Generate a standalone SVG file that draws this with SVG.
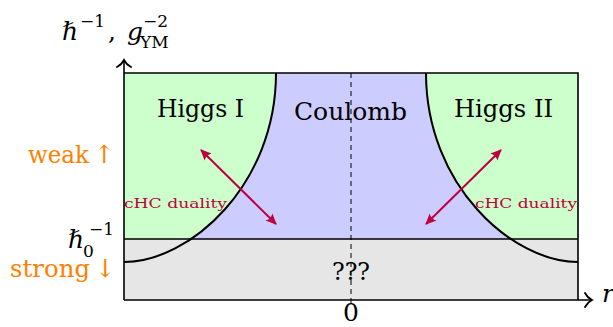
<svg xmlns="http://www.w3.org/2000/svg" width="613" height="327" viewBox="0 0 613 327">
<style>
text{font-family:'DejaVu Serif',serif}
.big{font-size:25px;fill:#000}
.sm{font-size:17px;fill:#000}
.it{font-style:italic}
.org{fill:#ff8000}
.pur{fill:#bf0040;font-size:13px}
.curve{fill:none;stroke:#000;stroke-width:2}
.bd{fill:none;stroke:#000;stroke-width:1.6}
.dual{stroke:#bf0040;stroke-width:2;fill:none;marker-start:url(#st);marker-end:url(#st)}
</style>
<defs>
<marker id="to" markerUnits="userSpaceOnUse" viewBox="-10 -9 12 18" refX="0" refY="0" markerWidth="12" markerHeight="18" orient="auto">
<path d="M-7,-7 C-5,-3 -2,-1 0,0 C-2,1 -5,3 -7,7" fill="none" stroke="#000" stroke-width="1.8" stroke-linecap="round"/>
</marker>
<marker id="st" markerUnits="userSpaceOnUse" viewBox="-12 -7 14 14" refX="0" refY="0" markerWidth="14" markerHeight="14" orient="auto-start-reverse">
<path d="M1,0 L-10,-5 Q-7,0 -10,5 Z" fill="#bf0040"/>
</marker>
</defs>
<g id="regions">
<rect x="124" y="73" width="454" height="166" fill="#ccffcc"/>
<path d="M276,73 C276,185 190,262 124,262 L578,262 C512,262 426,185 426,73 Z" fill="#ccccff"/>
<rect x="124" y="239" width="454" height="61" fill="#e6e6e6"/>
</g>
<g id="boundaries">
<path class="curve" d="M276,73 C276,185 190,262 124,262"/>
<path class="curve" d="M426,73 C426,185 512,262 578,262"/>
<path class="bd" d="M124,73 H578 V300 M124,239 H578"/>
<line x1="351" y1="73" x2="351" y2="307" stroke="#000" stroke-width="1" stroke-dasharray="5 4"/>
</g>
<g id="axes">
<line x1="124" y1="300" x2="592" y2="300" stroke="#000" stroke-width="1.6" marker-end="url(#to)"/>
<line x1="124" y1="300" x2="124" y2="60" stroke="#000" stroke-width="1.6" marker-end="url(#to)"/>
</g>
<g id="connectors">
<line class="dual" x1="201" y1="150" x2="276" y2="224"/>
<line class="dual" x1="501" y1="150" x2="426" y2="224"/>
</g>
<g id="higgs1"><text class="big" x="157" y="117" textLength="87" lengthAdjust="spacingAndGlyphs">Higgs I</text></g>
<g id="coulomb"><text class="big" x="294" y="120" textLength="113" lengthAdjust="spacingAndGlyphs">Coulomb</text></g>
<g id="higgs2"><text class="big" x="454" y="117" textLength="99" lengthAdjust="spacingAndGlyphs">Higgs II</text></g>
<g id="unknown"><text class="big" x="332" y="280" textLength="38" lengthAdjust="spacingAndGlyphs">???</text></g>
<g id="dual-labels">
<text class="pur" x="124" y="208" textLength="103" lengthAdjust="spacingAndGlyphs">cHC duality</text>
<text class="pur" x="475" y="208" textLength="102" lengthAdjust="spacingAndGlyphs">cHC duality</text>
</g>
<g id="axis-labels">
<text class="big it" x="62" y="40">ℏ</text>
<text class="sm" x="80" y="27">−1</text>
<text class="big" x="108" y="40">,</text>
<text class="big it" x="127" y="40">g</text>
<text class="sm" x="143" y="27">−2</text>
<text class="sm" x="140" y="48">YM</text>
<text class="big" x="351" y="321" text-anchor="middle">0</text>
<text class="big it" x="602" y="302">r</text>
<text class="big it" x="68" y="248">ℏ</text>
<text class="sm" x="83" y="257">0</text>
<text class="sm" x="89" y="235">−1</text>
<text class="big org" x="28" y="163" textLength="61" lengthAdjust="spacingAndGlyphs">weak</text>
<text class="big org" x="104.5" y="163" text-anchor="middle">↑</text>
<text class="big org" x="10" y="277" textLength="80" lengthAdjust="spacingAndGlyphs">strong</text>
<text class="big org" x="105.5" y="277" text-anchor="middle">↓</text>
</g>
</svg>
